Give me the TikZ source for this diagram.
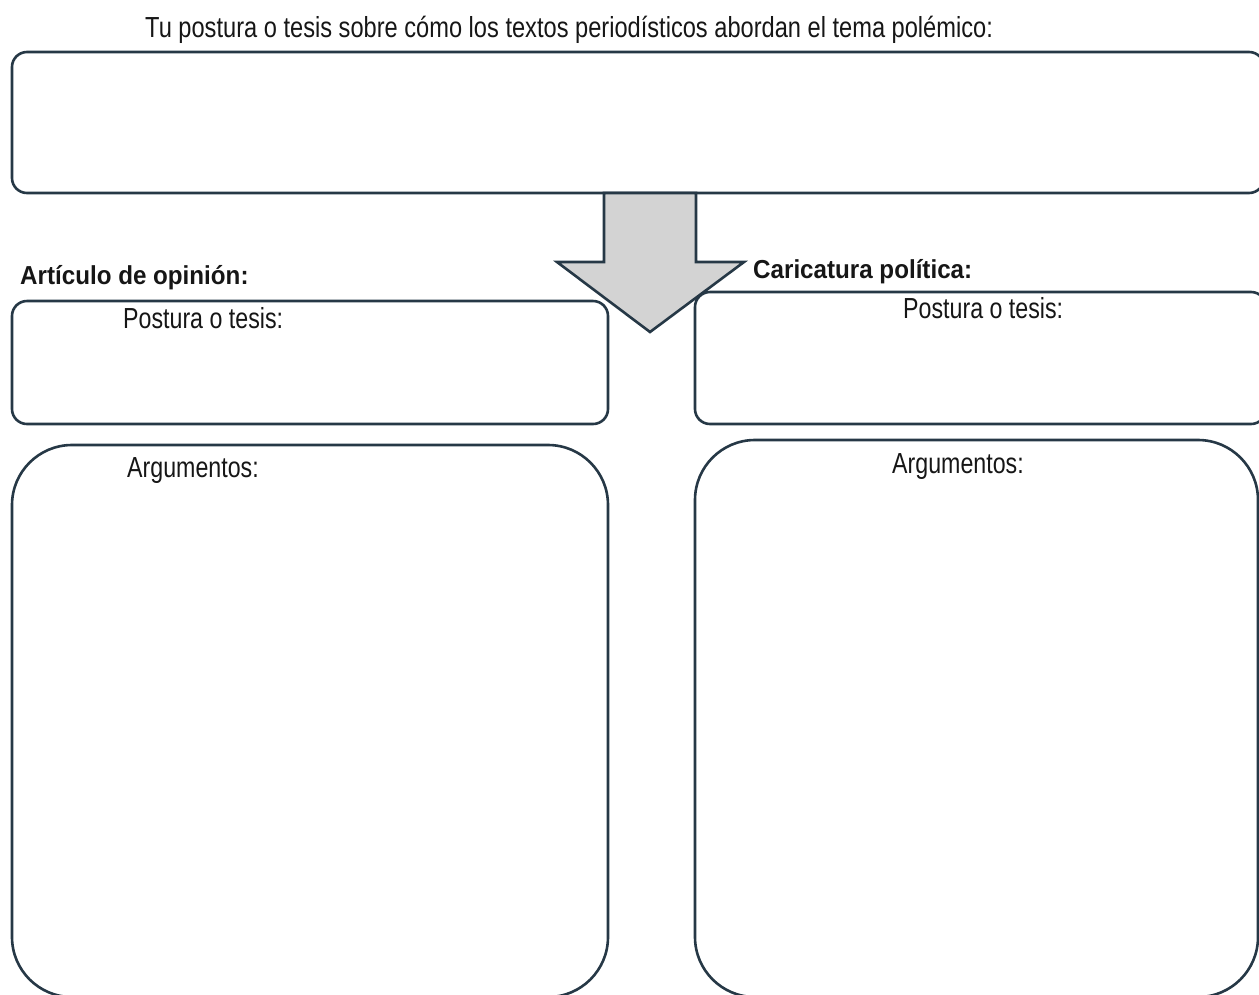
\documentclass[tikz,border=0pt]{standalone}
\usepackage{fontspec}
\setmainfont{Liberation Sans}
\definecolor{edgeblue}{RGB}{38,56,70}
\definecolor{arrowgray}{RGB}{211,211,211}
\definecolor{inkgray}{RGB}{22,22,22}
\newcommand{\slim}[2][0.8]{\scalebox{#1}[1]{#2}}
\newcommand{\slimbold}[1]{\scalebox{0.93}[1]{\bfseries #1}}

\begin{document}
\begin{tikzpicture}[x=1pt,y=-1pt]
    \tikzstyle{panel}=[draw=edgeblue,line width=2.6pt,rounded corners=15pt]
    \tikzstyle{big panel}=[panel,rounded corners=60pt]
    \tikzstyle{label}=[anchor=base west,inner sep=0pt,text=inkgray,font=\fontsize{29}{31}\selectfont]
    \tikzstyle{heading}=[label,font=\fontsize{26}{28}\selectfont]
    \tikzstyle{down arrow}=[draw=edgeblue,line width=2.6pt,fill=arrowgray,line join=miter]

    \useasboundingbox (0,0) rectangle (1259,994);
    \clip (0,0) rectangle (1259,994);

    % title and its box
    \node[label] (title) at (145,37) {\slim[0.815]{Tu postura o tesis sobre cómo los textos periodísticos abordan el tema polémico:}};
    \draw[panel] (12,52) rectangle (1264,193);

    % left column
    \node[heading] (left-head) at (20,284) {\slimbold{Artículo de opinión:}};
    \draw[panel] (12,301) rectangle (608,424);
    \node[label] (left-thesis) at (123,328) {\slim{Postura o tesis:}};
    \draw[big panel] (12,445) rectangle (608,997);
    \node[label] (left-args) at (127,477) {\slim{Argumentos:}};

    % right column
    \node[heading] (right-head) at (753,278) {\slimbold{Caricatura política:}};
    \draw[panel] (695,292) rectangle (1266,424);
    \node[label] (right-thesis) at (903,318) {\slim{Postura o tesis:}};
    \draw[big panel] (695,440) rectangle (1258,997);
    \node[label] (right-args) at (892,473) {\slim{Argumentos:}};

    % arrow from the title box
    \coordinate (shaft-l) at (604,193);
    \coordinate (shaft-r) at (696,193);
    \coordinate (tip) at (650,332);
    \draw[down arrow] (shaft-l) -- (604,262) -- (557,262) -- (tip)
        -- (744,262) -- (696,262) -- (shaft-r) -- cycle;
\end{tikzpicture}
\end{document}
